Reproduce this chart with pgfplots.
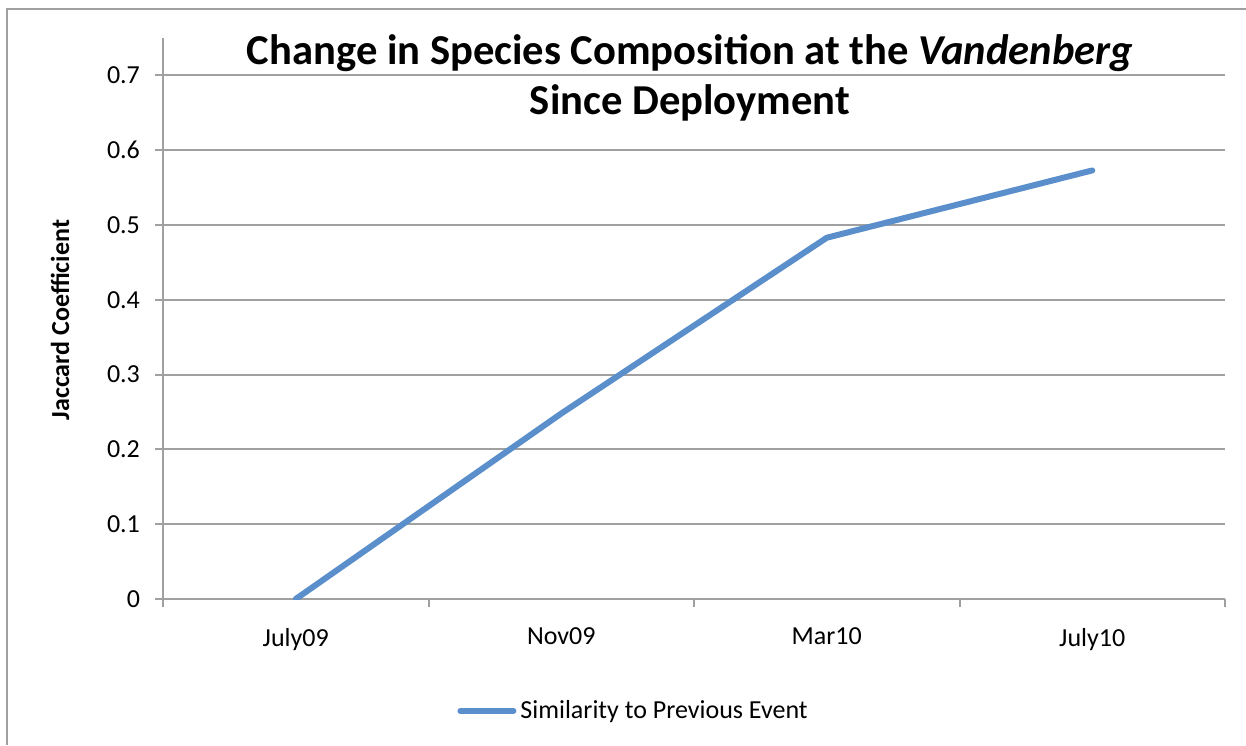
\documentclass[border=0pt]{standalone}
\usepackage{pgfplots}
\pgfplotsset{compat=1.18}
\usepackage{fontspec}
\setmainfont{Carlito}
\definecolor{lineblue}{HTML}{5A8FCB}
\definecolor{gridgray}{HTML}{A0A0A0}
\begin{document}
\begin{tikzpicture}
\useasboundingbox (0pt,0pt) rectangle (623pt,-372.5pt);
\draw[gridgray, line width=1pt] (3.5pt,-372.5pt) -- (3.5pt,-4.5pt) -- (623pt,-4.5pt);
\begin{axis}[
  at={(81.5pt,-299.5pt)}, anchor=south west,
  scale only axis, width=531pt, height=280.5pt,
  xmin=-0.5, xmax=3.5, ymin=0, ymax=0.75,
  axis x line*=bottom, axis y line*=left,
  axis line style={gridgray, line width=1pt, -},
  xtick={0,1,2,3}, xticklabels={July09,Nov09,Mar10,July10},
  major x tick style={draw=none},
  minor xtick={-0.5,0.5,1.5,2.5,3.5},
  ytick={0,0.1,0.2,0.3,0.4,0.5,0.6,0.7},
  yticklabel style={/pgf/number format/fixed, /pgf/number format/precision=1},
  /pgf/number format/assume math mode=true,
  tick align=outside, major tick length=4pt, minor tick length=4pt,
  tick style={gridgray, line width=1pt},
  ymajorgrids, grid style={gridgray, line width=1pt},
  ticklabel style={font=\fontsize{13}{15}\selectfont},
  xticklabel style={yshift=-7pt},
  yticklabel style={xshift=-4pt},
  legend style={at={(0.444,-0.1996)}, anchor=center, draw=none, fill=none, font=\fontsize{13}{15}\selectfont},
  legend image code/.code={\draw[#1, line cap=round] (0pt,0pt) -- (26.5pt,0pt);},
]
\addplot[lineblue, line width=3pt, line cap=round, line join=round] coordinates {
  (0,0) (1,0.248) (2,0.483) (3,0.573)
};
\addlegendentry{Similarity to Previous Event}
\end{axis}
\node[align=center, font=\fontsize{21.3}{25}\selectfont\bfseries] at (345pt,-39pt)
  {Change in Species Composition at the \textit{Vandenberg}\\Since Deployment};
\node[rotate=90, font=\fontsize{13}{15}\selectfont\bfseries] at (30pt,-160pt) {Jaccard Coefficient};
\end{tikzpicture}
\end{document}
